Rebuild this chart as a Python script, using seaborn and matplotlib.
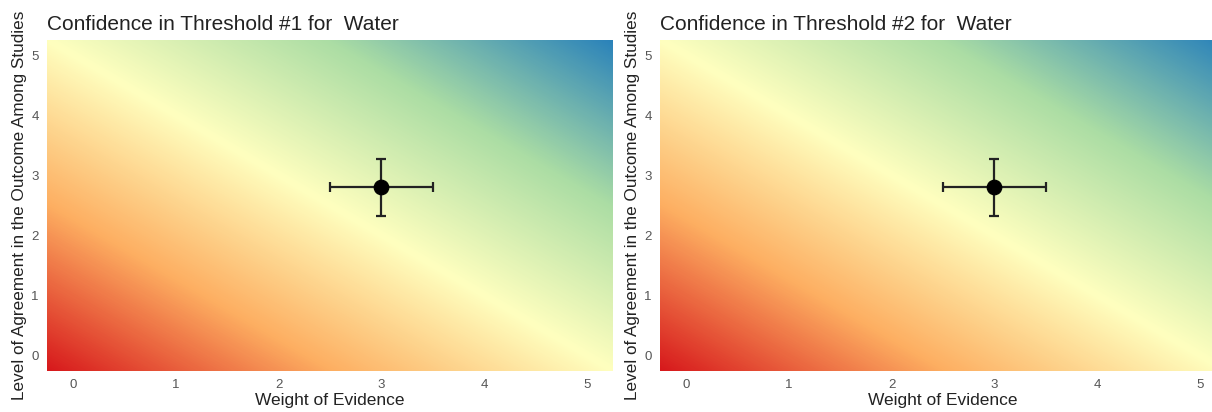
import numpy as np
import pandas as pd
import matplotlib
matplotlib.use("Agg")
import matplotlib.pyplot as plt
from matplotlib.colors import LinearSegmentedColormap
import seaborn as sns

# ---- data ----
titles = ["Confidence in Threshold #1 for  Water", "Confidence in Threshold #2 for  Water"]
weight_of_evidence = [3.0, 3.0]
agreement = [2.8, 2.8]
weight_err = [0.5, 0.5]
agreement_err = [0.47, 0.47]
ticks = [0, 1, 2, 3, 4, 5]
axis_min, axis_max = -0.25, 5.25
gradient_colors = ["#d7191c", "#fdae61", "#ffffbf", "#abdda4", "#2b83ba"]

sns.set_theme(style="white")
plt.rcParams['font.family'] = ['Liberation Sans', 'DejaVu Sans']

cmap = LinearSegmentedColormap.from_list("conf", gradient_colors)

fig = plt.figure(figsize=(12.12, 4.12), dpi=100)
W, H = 1212, 412
boxes = [(47, 566), (660, 566)]
top, bottom = 40, 371

# background grid: confidence grows with the sum of both axes
gx = np.linspace(axis_min, axis_max, 400)
gy = np.linspace(axis_min, axis_max, 400)
GX, GY = np.meshgrid(gx, gy)
Z = GX + GY

for i, (left, width) in enumerate(boxes):
    ax = fig.add_axes([left / W, (H - bottom) / H, width / W, (bottom - top) / H])
    ax.imshow(Z, extent=[axis_min, axis_max, axis_min, axis_max], origin="lower",
              cmap=cmap, vmin=2 * axis_min, vmax=2 * axis_max, aspect="auto",
              interpolation="bilinear", zorder=0)
    df = pd.DataFrame({"x": [weight_of_evidence[i]], "y": [agreement[i]]})
    ax.errorbar(df["x"], df["y"], xerr=weight_err[i], yerr=agreement_err[i],
                fmt="none", ecolor="#222222", elinewidth=1.6, capsize=3.5,
                capthick=1.6, zorder=2)
    sns.scatterplot(data=df, x="x", y="y", ax=ax, s=110, color="black",
                    edgecolor="black", zorder=3)
    ax.set_xlim(axis_min, axis_max)
    ax.set_ylim(axis_min, axis_max)
    ax.set_xticks(ticks)
    ax.set_yticks(ticks)
    ax.tick_params(axis="both", labelsize=9.5, colors="#555555", length=0, pad=6)
    for s in ax.spines.values():
        s.set_visible(False)
    ax.set_xlabel("Weight of Evidence", fontsize=12.5, color="#222222", labelpad=1)
    ax.set_ylabel("Level of Agreement in the Outcome Among Studies", fontsize=12.3,
                  color="#222222", labelpad=3)
    ax.set_title(titles[i], loc="left", fontsize=15, color="#222222", pad=7)

fig.savefig("out.png", dpi=100)
